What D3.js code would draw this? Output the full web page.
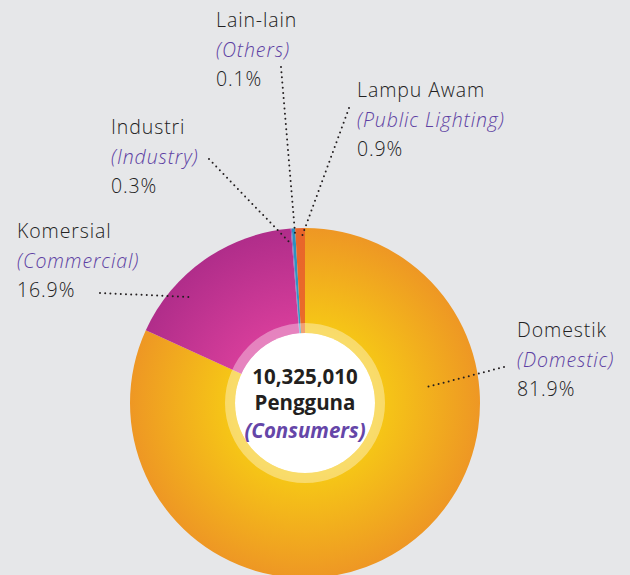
<!DOCTYPE html>
<html>
<head>
<meta charset="utf-8">
<script src="https://cdn.jsdelivr.net/npm/d3@7"></script>
<style>
  html, body { margin: 0; padding: 0; background: #e6e7e9; }
  svg { display: block; }
  text { font-family: "Open Sans", "Noto Sans", sans-serif; }
</style>
</head>
<body>
<svg id="chart" width="630" height="575"></svg>
<script>
// ---- data ----
const categories = ["Domestik", "Komersial", "Lain-lain", "Industri", "Lampu Awam"];
const categoriesEn = ["(Domestic)", "(Commercial)", "(Others)", "(Industry)", "(Public Lighting)"];
const shares = [81.9, 16.9, 0.1, 0.3, 0.9];
const shareLabels = ["81.9%", "16.9%", "0.1%", "0.3%", "0.9%"];
const totalLabel = "10,325,010";
const centerLines = ["Pengguna", "(Consumers)"];

// ---- style / layout ----
const innerCol = ["#f6c816", "#d83e9b", "#a77cc8", "#2f9dc8", "#ea6c2a"];
const outerCol = ["#ee9724", "#b02d8a", "#8f62b8", "#2a8fbd", "#e8652a"];
const labelPos = [
  {x: 517, y: 337, dot0: [504, 367], dot1: [427, 387]},
  {x: 17,  y: 238, dot0: [100, 293], dot1: [190, 297]},
  {x: 216, y: 27,  dot0: [281, 67],  dot1: [295, 233]},
  {x: 111, y: 134, dot0: [209, 159], dot1: [292, 245]},
  {x: 357, y: 97,  dot0: [349, 108], dot1: [301, 239]}
];
const cx = 305, cy = 403, rOuter = 175, rHole = 70, rRing = 80;
const lineH = 29.5;

const svg = d3.select("#chart");
const defs = svg.append("defs");

const data = categories.map((c, i) => ({name: c, en: categoriesEn[i], value: shares[i], label: shareLabels[i], i}));

data.forEach(d => {
  const g = defs.append("radialGradient")
    .attr("id", "grad" + d.i)
    .attr("gradientUnits", "userSpaceOnUse")
    .attr("cx", 0).attr("cy", 0).attr("r", rOuter);
  g.append("stop").attr("offset", "0.42").attr("stop-color", innerCol[d.i]);
  g.append("stop").attr("offset", "1").attr("stop-color", outerCol[d.i]);
});

const pie = d3.pie().value(d => d.value).sort(null);
const arc = d3.arc().innerRadius(0).outerRadius(rOuter);

const g = svg.append("g").attr("transform", `translate(${cx},${cy})`);
g.selectAll("path.slice")
  .data(pie(data))
  .join("path")
  .attr("class", "slice")
  .attr("d", arc)
  .attr("fill", d => `url(#grad${d.data.i})`);

// light ring
g.append("path")
  .attr("d", d3.arc().innerRadius(rHole).outerRadius(rRing).startAngle(0).endAngle(2 * Math.PI)())
  .attr("fill", "#ffffff")
  .attr("fill-opacity", 0.36);

// white hole
g.append("circle").attr("r", rHole).attr("fill", "#ffffff");

// center text
const ct = svg.append("g").attr("text-anchor", "middle");
ct.append("text").attr("x", cx).attr("y", 384)
  .attr("font-size", 20.5).attr("font-weight", 700).attr("fill", "#231f20").text(totalLabel);
ct.append("text").attr("x", cx).attr("y", 410)
  .attr("font-size", 20.5).attr("font-weight", 700).attr("fill", "#231f20").text(centerLines[0]);
ct.append("text").attr("x", cx).attr("y", 438)
  .attr("font-size", 20.5).attr("font-weight", 700).attr("font-style", "italic").attr("fill", "#6546a8").text(centerLines[1]);

// leader lines
const lines = svg.append("g");
data.forEach(d => {
  const p = labelPos[d.i];
  lines.append("line")
    .attr("x1", p.dot0[0]).attr("y1", p.dot0[1])
    .attr("x2", p.dot1[0]).attr("y2", p.dot1[1])
    .attr("stroke", "#231f20").attr("stroke-width", 2)
    .attr("stroke-linecap", "round")
    .attr("stroke-dasharray", "0 5.2");
});

// labels
const labels = svg.append("g").attr("font-weight", 300).attr("letter-spacing", 0.9);
data.forEach(d => {
  const p = labelPos[d.i];
  labels.append("text").attr("x", p.x).attr("y", p.y)
    .attr("font-size", 19.5).attr("fill", "#222").text(d.name);
  labels.append("text").attr("x", p.x).attr("y", p.y + lineH)
    .attr("font-size", 19.5).attr("font-style", "italic").attr("fill", "#5d3fa3").text(d.en);
  labels.append("text").attr("x", p.x).attr("y", p.y + 2 * lineH)
    .attr("font-size", 19.5).attr("fill", "#222").text(d.label);
});
</script>
</body>
</html>
